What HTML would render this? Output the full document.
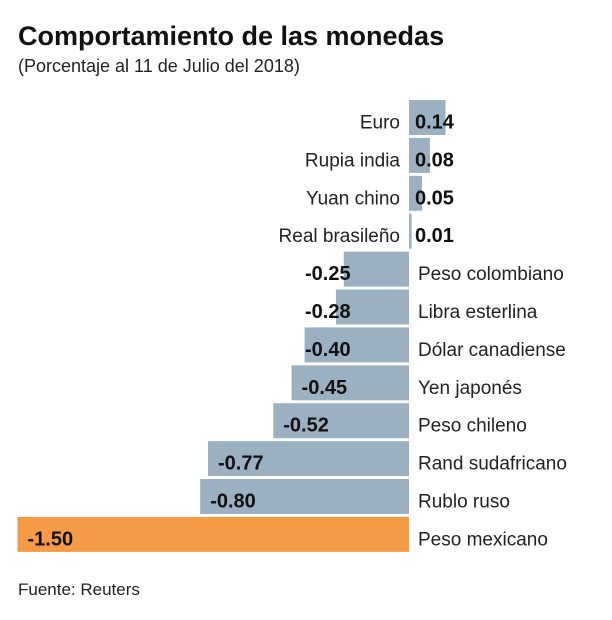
<!DOCTYPE html>
<html><head><meta charset="utf-8"><style>
body{margin:0;background:#fff;width:612px;height:620px;overflow:hidden;font-family:"Liberation Sans",sans-serif;}
svg{display:block}
</style></head><body>
<svg width="612" height="620">
<text x="18" y="45" font-size="27" font-weight="bold" fill="#111">Comportamiento de las monedas</text>
<text x="18" y="72" font-size="18" fill="#222">(Porcentaje al 11 de Julio del 2018)</text>
<g id="bars"></g>
<text x="18" y="595" font-size="17" fill="#222">Fuente: Reuters</text>
</svg>
<script>
const categories=["Euro","Rupia india","Yuan chino","Real brasileño","Peso colombiano","Libra esterlina","Dólar canadiense","Yen japonés","Peso chileno","Rand sudafricano","Rublo ruso","Peso mexicano"];
const values=[0.14,0.08,0.05,0.01,-0.25,-0.28,-0.40,-0.45,-0.52,-0.77,-0.80,-1.50];
const valueLabels=["0.14","0.08","0.05","0.01","-0.25","-0.28","-0.40","-0.45","-0.52","-0.77","-0.80","-1.50"];
const NS="http://www.w3.org/2000/svg";
const x0=409, scale=261, top0=100, step=37.9, bh=35;
const xs=v=>x0+v*scale;
const g=document.getElementById('bars');
function mk(tag,attrs){const e=document.createElementNS(NS,tag);for(const k in attrs)e.setAttribute(k,attrs[k]);g.appendChild(e);return e;}
categories.forEach((c,i)=>{
  const v=values[i], y=top0+i*step;
  const x1=Math.min(xs(v),x0), w=Math.max(Math.abs(xs(v)-x0),1.5);
  const r=mk('rect',{x:x1,y:y,width:w,height:bh,fill:(i===categories.length-1?'#f59a45':'#9bb0c1')});
  
  
  const ty=y+bh/2+11;
  let cat,val;
  if(v>=0){
    cat=mk('text',{x:x0-9,y:ty,'text-anchor':'end','font-size':19,fill:'#222'});
    val=mk('text',{x:x0+6,y:ty,'font-size':20,'font-weight':'bold',fill:'#111'});
  }else{
    cat=mk('text',{x:x0+9,y:ty,'font-size':19,fill:'#222'});
    val=mk('text',{x:Math.min(x1+10,305),y:ty,'font-size':20,'font-weight':'bold',fill:'#111'});
  }
  cat.textContent=c;
  
  
  val.textContent=valueLabels[i];
  
  
});
</script>
</body></html>
